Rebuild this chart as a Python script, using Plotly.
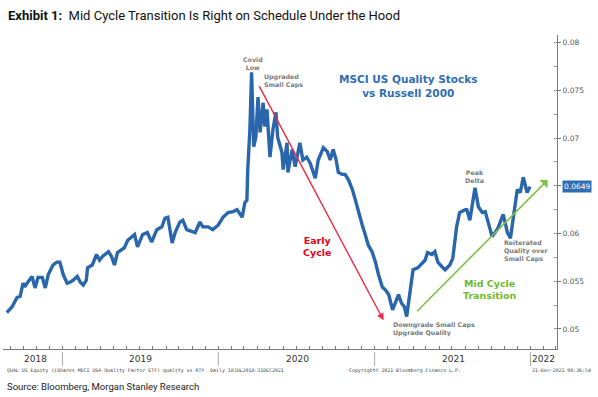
import plotly.graph_objects as go

dates = [
    "2018-08-24", "2018-09-05", "2018-09-17", "2018-09-24", "2018-10-01", "2018-10-05", "2018-10-12",
    "2018-10-22", "2018-10-29", "2018-11-05", "2018-11-15", "2018-11-22", "2018-11-29", "2018-12-10",
    "2018-12-19", "2018-12-26",
    "2019-01-03", "2019-01-12", "2019-01-19", "2019-01-26", "2019-02-05", "2019-02-12", "2019-02-19",
    "2019-02-26", "2019-03-01", "2019-03-12", "2019-03-22", "2019-03-29", "2019-04-05", "2019-04-15",
    "2019-04-19", "2019-04-26", "2019-05-03", "2019-05-10", "2019-05-19", "2019-05-26", "2019-06-03",
    "2019-06-12", "2019-06-19", "2019-06-26", "2019-07-08", "2019-07-19", "2019-07-29", "2019-08-10",
    "2019-08-22", "2019-08-29", "2019-09-05", "2019-09-15", "2019-09-22", "2019-10-03", "2019-10-10",
    "2019-10-19", "2019-11-01", "2019-11-08", "2019-11-19", "2019-11-26", "2019-12-08", "2019-12-19",
    "2020-01-01", "2020-01-12", "2020-01-24", "2020-02-05", "2020-02-14", "2020-02-26", "2020-03-03",
    "2020-03-08", "2020-03-10", "2020-03-15", "2020-03-19", "2020-03-24", "2020-03-29", "2020-04-03",
    "2020-04-08", "2020-04-15", "2020-04-19", "2020-04-24", "2020-05-01", "2020-05-08", "2020-05-15",
    "2020-05-19", "2020-05-29", "2020-06-01", "2020-06-10", "2020-06-12", "2020-06-22", "2020-06-29",
    "2020-07-10", "2020-07-17", "2020-07-26", "2020-08-03", "2020-08-15", "2020-08-22", "2020-09-03",
    "2020-09-12", "2020-09-19", "2020-09-26", "2020-10-03", "2020-10-08", "2020-10-17", "2020-10-24",
    "2020-11-01", "2020-11-10", "2020-11-17", "2020-11-24", "2020-12-03", "2020-12-10", "2020-12-17",
    "2020-12-26",
    "2021-01-03", "2021-01-10", "2021-01-19", "2021-01-26", "2021-02-03", "2021-02-12", "2021-02-19",
    "2021-02-26", "2021-03-05", "2021-03-12", "2021-03-17", "2021-03-24", "2021-04-01", "2021-04-12",
    "2021-04-22", "2021-04-29", "2021-05-05", "2021-05-15", "2021-05-22", "2021-05-29", "2021-06-08",
    "2021-06-15", "2021-06-26", "2021-07-03", "2021-07-12", "2021-07-19", "2021-08-01", "2021-08-05",
    "2021-08-12", "2021-08-19", "2021-08-24", "2021-09-01", "2021-09-10", "2021-09-17", "2021-09-24",
    "2021-10-03", "2021-10-10", "2021-10-17", "2021-10-29", "2021-11-08", "2021-11-15", "2021-11-22",
    "2021-12-01", "2021-12-08", "2021-12-15", "2021-12-24", "2021-12-31",
]

ratio = [
    0.0517, 0.0523, 0.0533, 0.0534, 0.0548, 0.0544, 0.0549,
    0.0555, 0.0543, 0.0554, 0.0554, 0.0543, 0.0557, 0.0567,
    0.0570, 0.0570,
    0.0557, 0.0548, 0.0549, 0.0551, 0.0555, 0.0549, 0.0546,
    0.0551, 0.0564, 0.0567, 0.0578, 0.0572, 0.0576, 0.0580,
    0.0581, 0.0576, 0.0567, 0.0580, 0.0583, 0.0585, 0.0593,
    0.0597, 0.0599, 0.0586, 0.0599, 0.0601, 0.0591, 0.0604,
    0.0607, 0.0616, 0.0617, 0.0590, 0.0601, 0.0612, 0.0614,
    0.0604, 0.0602, 0.0601, 0.0612, 0.0607, 0.0607, 0.0604,
    0.0609, 0.0617, 0.0622, 0.0623, 0.0625, 0.0617, 0.0632,
    0.0635, 0.0667, 0.0709, 0.0769, 0.0691, 0.0701, 0.0743,
    0.0706, 0.0737, 0.0712, 0.0730, 0.0680, 0.0709, 0.0727,
    0.0701, 0.0685, 0.0667, 0.0695, 0.0664, 0.0688, 0.0670,
    0.0695, 0.0677, 0.0680, 0.0674, 0.0658, 0.0677, 0.0690,
    0.0686, 0.0677, 0.0688, 0.0677, 0.0664, 0.0662, 0.0662,
    0.0656, 0.0646, 0.0635, 0.0622, 0.0609, 0.0599, 0.0588,
    0.0581,
    0.0570, 0.0557, 0.0544, 0.0541, 0.0536, 0.0520, 0.0528,
    0.0536, 0.0527, 0.0523, 0.0513, 0.0538, 0.0562, 0.0564,
    0.0569, 0.0572, 0.0580, 0.0578, 0.0581, 0.0570, 0.0565,
    0.0562, 0.0567, 0.0574, 0.0607, 0.0622, 0.0625, 0.0625,
    0.0614, 0.0635, 0.0648, 0.0628, 0.0622, 0.0623, 0.0611,
    0.0597, 0.0601, 0.0606, 0.0620, 0.0601, 0.0595, 0.0617,
    0.0646, 0.0643, 0.0659, 0.0643, 0.0649,
]

year_labels = ["2018", "2019", "2020", "2021", "2022"]
year_starts = ["2019-01-01", "2020-01-01", "2021-01-01", "2022-01-01"]
y_ticks = [0.05, 0.055, 0.06, 0.065, 0.07, 0.075, 0.08]
y_tick_text = ["0.05", "0.055", "0.06", "", "0.07", "0.075", "0.08"]
last_value = "0.0649"

BLUE = "#2a66ab"
GRAY = "#7a7a7a"
RED = "#ee2a46"
GREEN = "#7cc243"

fig = go.Figure()
fig.add_trace(go.Scatter(x=dates, y=ratio, mode="lines",
                         line=dict(color=BLUE, width=3.4), hoverinfo="skip"))

W, H = 598, 397
L, R, T, B = 3, 41, 35, 48
pw, ph = W - L - R, H - T - B


def px(x):
    return (x - L) / pw


def py(y):
    return (H - B - y) / ph


fig.update_layout(
    width=W, height=H,
    margin=dict(l=L, r=R, t=T, b=B),
    paper_bgcolor="white", plot_bgcolor="white",
    showlegend=False,
    xaxis=dict(type="date", range=["2018-08-15", "2022-03-04"],
               showgrid=False, zeroline=False, showline=True,
               linecolor="#777", linewidth=1,
               ticks="inside", tickcolor="#777", ticklen=3,
               tick0="2019-01-01", dtick="M1", showticklabels=False),
    yaxis=dict(side="right", range=[0.0479, 0.0808],
               showgrid=False, zeroline=False, showline=True,
               linecolor="#777", linewidth=1,
               tickvals=y_ticks, ticktext=y_tick_text,
               ticks="outside", tickcolor="#777", ticklen=3,
               tickfont=dict(family="DejaVu Sans", size=7.5, color="#555"),
               minor=dict(dtick=0.0025, ticks="inside", ticklen=3, tickcolor="#999")),
)

annotations = []

# Titles
annotations.append(dict(xref="paper", yref="paper", x=px(6), y=py(16), xanchor="left", yanchor="middle",
                        showarrow=False,
                        text="<b>Exhibit 1:</b>  Mid Cycle Transition Is Right on Schedule Under the Hood",
                        font=dict(family="Roboto", size=13, color="#111")))
annotations.append(dict(xref="paper", yref="paper", x=px(408), y=py(86), xanchor="center", yanchor="middle",
                        showarrow=False,
                        text="<b>MSCI US Quality Stocks<br>vs Russell 2000</b>",
                        font=dict(family="DejaVu Sans", size=10.5, color="#2f6db3")))

small = dict(family="DejaVu Sans", size=6.3, color=GRAY)
annotations.append(dict(xref="paper", yref="paper", x=px(253), y=py(64), xanchor="center", yanchor="middle",
                        showarrow=False, text="<b>Covid<br>Low</b>", font=small))
annotations.append(dict(xref="paper", yref="paper", x=px(262), y=py(81), xanchor="left", yanchor="middle",
                        showarrow=False, align="left", text="<b>Upgraded<br>Small Caps</b>", font=small))
annotations.append(dict(xref="paper", yref="paper", x=px(474), y=py(176), xanchor="center", yanchor="middle",
                        showarrow=False, text="<b>Peak<br>Delta</b>", font=small))
annotations.append(dict(xref="paper", yref="paper", x=px(502), y=py(251), xanchor="left", yanchor="middle",
                        showarrow=False, align="left",
                        text="<b>Reiterated<br>Quality over<br>Small Caps</b>", font=small))
annotations.append(dict(xref="paper", yref="paper", x=px(391), y=py(329), xanchor="left", yanchor="middle",
                        showarrow=False, align="left",
                        text="<b>Downgrade Small Caps<br>Upgrade Quality</b>", font=small))
annotations.append(dict(xref="paper", yref="paper", x=px(317), y=py(246), xanchor="center", yanchor="middle",
                        showarrow=False, text="<b>Early<br>Cycle</b>",
                        font=dict(family="DejaVu Sans", size=9.5, color="#e8001c")))
annotations.append(dict(xref="paper", yref="paper", x=px(490), y=py(289), xanchor="center", yanchor="middle",
                        showarrow=False, text="<b>Mid Cycle<br>Transition</b>",
                        font=dict(family="DejaVu Sans", size=9.5, color="#6cbb2c")))

# Arrows
annotations.append(dict(xref="x", yref="y", axref="x", ayref="y",
                        x="2021-01-22", y=0.0509, ax="2020-04-04", ay=0.0756,
                        showarrow=True, arrowhead=2, arrowsize=1, arrowwidth=1.4,
                        arrowcolor=RED, text=""))
annotations.append(dict(xref="x", yref="y", axref="x", ayref="y",
                        x="2022-02-10", y=0.0656, ax="2021-04-07", ay=0.0517,
                        showarrow=True, arrowhead=1, arrowsize=1.2, arrowwidth=1.6,
                        arrowcolor=GREEN, text=""))

# Last value tag
annotations.append(dict(xref="paper", yref="y", x=1.0 + 5 / pw, y=0.0649, xanchor="left", yanchor="middle",
                        showarrow=False, text=last_value, bgcolor="#2f6eb5", borderpad=1,
                        font=dict(family="DejaVu Sans", size=7.5, color="white")))

# Year labels
year_x = [35, 140, 297, 453, 543]
for lab, xx in zip(year_labels, year_x):
    annotations.append(dict(xref="paper", yref="paper", x=px(xx), y=py(359), xanchor="center", yanchor="middle",
                            showarrow=False, text=lab,
                            font=dict(family="DejaVu Sans", size=9, color="#333")))

# Footnotes
foot = dict(family="DejaVu Sans Mono", size=4.9, color="#444")
annotations.append(dict(xref="paper", yref="paper", x=px(5), y=py(370), xanchor="left", yanchor="middle",
                        showarrow=False,
                        text="QUAL US Equity (iShares MSCI USA Quality Factor ETF) quality vs RTY  Daily 18JUL2018-31DEC2021",
                        font=foot))
annotations.append(dict(xref="paper", yref="paper", x=px(405), y=py(370), xanchor="center", yanchor="middle",
                        showarrow=False, text="Copyright\u00a9 2021 Bloomberg Finance L.P.", font=foot))
annotations.append(dict(xref="paper", yref="paper", x=px(593), y=py(370), xanchor="right", yanchor="middle",
                        showarrow=False, text="31-Dec-2021 08:36:54", font=foot))
annotations.append(dict(xref="paper", yref="paper", x=px(5), y=py(386), xanchor="left", yanchor="middle",
                        showarrow=False, text="Source: Bloomberg, Morgan Stanley Research",
                        font=dict(family="Roboto", size=9.5, color="#222")))

fig.update_layout(annotations=annotations)

for d in year_starts:
    fig.add_shape(type="line", xref="x", yref="paper", x0=d, x1=d, y0=py(352), y1=py(366),
                  line=dict(color="#aaa", width=1))

fig.write_html("out.html", config={"displayModeBar": False},
               post_script="document.body.style.margin='0';document.body.style.overflow='hidden';")
